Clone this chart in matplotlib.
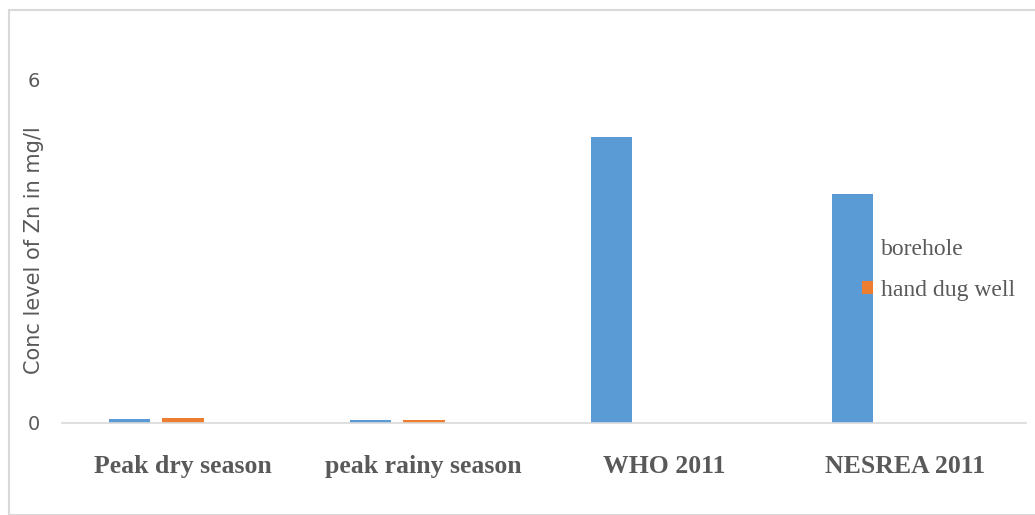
import matplotlib.pyplot as plt
import numpy as np
from matplotlib.patches import Rectangle

# Data
categories = ['Peak dry season', 'peak rainy season', 'WHO 2011', 'NESREA 2011']
borehole = [0.07, 0.05, 5.0, 4.0]
hand_dug_well = [0.08, 0.05, 0, 0]
y_ticks = [0, 6]

fig = plt.figure(figsize=(10.35, 5.15), dpi=100)
fig.patches.append(Rectangle((9/1035, 0), 1.5, (515-10)/515, transform=fig.transFigure,
                             fill=False, edgecolor='#d9d9d9', linewidth=1.5))
ax = fig.add_axes([62/1035, 92/515, 964/1035, 401/515])

x = np.arange(len(categories))
w = 0.174
ax.bar(x - 0.22, borehole, w, color='#5b9bd5', label='borehole')
ax.bar(x + 0.004, hand_dug_well, w, color='#ed7d31', label='hand dug well')

ax.set_xlim(-0.5, 3.5)
ax.set_ylim(0, 7)
ax.set_yticks(y_ticks)
ax.set_yticklabels([str(t) for t in y_ticks], color='#595959', fontsize=14)
ax.set_xticks(x)
ax.set_xticklabels(categories, fontfamily='Liberation Serif', fontweight='bold',
                   fontsize=18.5, color='#595959')
ax.tick_params(axis='both', length=0)
ax.tick_params(axis='x', pad=23)
ax.tick_params(axis='y', pad=16)
for s in ['top', 'right', 'left']:
    ax.spines[s].set_visible(False)
ax.spines['bottom'].set_color('#d9d9d9')
ax.spines['bottom'].set_linewidth(1.2)

fig.text(34/1035, 1 - 250/515, 'Conc level of Zn in mg/l', rotation=90, ha='center', va='center',
         color='#595959', fontsize=15)

leg = ax.legend(loc='center left', frameon=False,
                prop={'family': 'Liberation Serif', 'size': 17}, labelcolor='#595959',
                handlelength=0.45, handleheight=0.45, handletextpad=0.35, labelspacing=0.85)
leg.set_bbox_to_anchor((841/1035, 1 - 270/515), transform=fig.transFigure)

fig.savefig('out.png')
